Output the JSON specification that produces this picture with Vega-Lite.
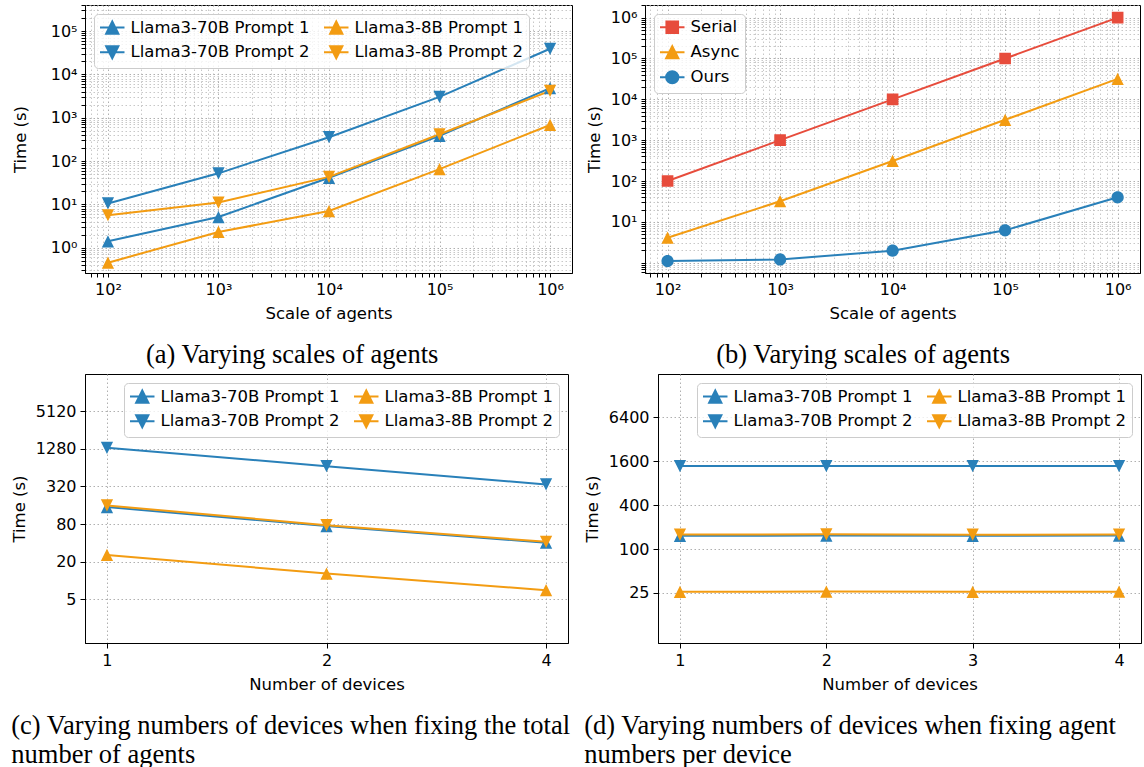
{
  "$schema": "https://vega.github.io/schema/vega-lite/v6.json",
  "padding": {"left": 10, "top": 4, "right": 0, "bottom": 0},
  "background": "white",
  "datasets": {
    "a": [
      {"x": 100, "time": 1.4, "series": "Llama3-70B Prompt 1"},
      {"x": 1000, "time": 5.1, "series": "Llama3-70B Prompt 1"},
      {"x": 10000, "time": 41, "series": "Llama3-70B Prompt 1"},
      {"x": 100000, "time": 380, "series": "Llama3-70B Prompt 1"},
      {"x": 1000000, "time": 4800, "series": "Llama3-70B Prompt 1"},
      {"x": 100, "time": 10.5, "series": "Llama3-70B Prompt 2"},
      {"x": 1000, "time": 52, "series": "Llama3-70B Prompt 2"},
      {"x": 10000, "time": 355, "series": "Llama3-70B Prompt 2"},
      {"x": 100000, "time": 3030, "series": "Llama3-70B Prompt 2"},
      {"x": 1000000, "time": 39000, "series": "Llama3-70B Prompt 2"},
      {"x": 100, "time": 0.45, "series": "Llama3-8B Prompt 1"},
      {"x": 1000, "time": 2.3, "series": "Llama3-8B Prompt 1"},
      {"x": 10000, "time": 7, "series": "Llama3-8B Prompt 1"},
      {"x": 100000, "time": 65, "series": "Llama3-8B Prompt 1"},
      {"x": 1000000, "time": 680, "series": "Llama3-8B Prompt 1"},
      {"x": 100, "time": 5.6, "series": "Llama3-8B Prompt 2"},
      {"x": 1000, "time": 11, "series": "Llama3-8B Prompt 2"},
      {"x": 10000, "time": 43, "series": "Llama3-8B Prompt 2"},
      {"x": 100000, "time": 415, "series": "Llama3-8B Prompt 2"},
      {"x": 1000000, "time": 4150, "series": "Llama3-8B Prompt 2"}
    ],
    "b": [
      {"x": 100, "time": 100, "series": "Serial"},
      {"x": 1000, "time": 1000, "series": "Serial"},
      {"x": 10000, "time": 10000, "series": "Serial"},
      {"x": 100000, "time": 100000, "series": "Serial"},
      {"x": 1000000, "time": 1000000, "series": "Serial"},
      {"x": 100, "time": 4.1, "series": "Async"},
      {"x": 1000, "time": 32, "series": "Async"},
      {"x": 10000, "time": 310, "series": "Async"},
      {"x": 100000, "time": 3160, "series": "Async"},
      {"x": 1000000, "time": 31600, "series": "Async"},
      {"x": 100, "time": 1.1, "series": "Ours"},
      {"x": 1000, "time": 1.2, "series": "Ours"},
      {"x": 10000, "time": 1.97, "series": "Ours"},
      {"x": 100000, "time": 6.2, "series": "Ours"},
      {"x": 1000000, "time": 40, "series": "Ours"}
    ],
    "c": [
      {"x": 1, "time": 150, "series": "Llama3-70B Prompt 1"},
      {"x": 2, "time": 74.5, "series": "Llama3-70B Prompt 1"},
      {"x": 4, "time": 40.3, "series": "Llama3-70B Prompt 1"},
      {"x": 1, "time": 1330, "series": "Llama3-70B Prompt 2"},
      {"x": 2, "time": 676, "series": "Llama3-70B Prompt 2"},
      {"x": 4, "time": 345, "series": "Llama3-70B Prompt 2"},
      {"x": 1, "time": 25.7, "series": "Llama3-8B Prompt 1"},
      {"x": 2, "time": 12.9, "series": "Llama3-8B Prompt 1"},
      {"x": 4, "time": 7.0, "series": "Llama3-8B Prompt 1"},
      {"x": 1, "time": 159, "series": "Llama3-8B Prompt 2"},
      {"x": 2, "time": 77, "series": "Llama3-8B Prompt 2"},
      {"x": 4, "time": 41.7, "series": "Llama3-8B Prompt 2"}
    ],
    "d": [
      {"x": 1, "time": 152, "series": "Llama3-70B Prompt 1"},
      {"x": 2, "time": 153, "series": "Llama3-70B Prompt 1"},
      {"x": 3, "time": 152, "series": "Llama3-70B Prompt 1"},
      {"x": 4, "time": 153, "series": "Llama3-70B Prompt 1"},
      {"x": 1, "time": 1370, "series": "Llama3-70B Prompt 2"},
      {"x": 2, "time": 1372, "series": "Llama3-70B Prompt 2"},
      {"x": 3, "time": 1375, "series": "Llama3-70B Prompt 2"},
      {"x": 4, "time": 1371, "series": "Llama3-70B Prompt 2"},
      {"x": 1, "time": 25.9, "series": "Llama3-8B Prompt 1"},
      {"x": 2, "time": 26.1, "series": "Llama3-8B Prompt 1"},
      {"x": 3, "time": 25.9, "series": "Llama3-8B Prompt 1"},
      {"x": 4, "time": 26.0, "series": "Llama3-8B Prompt 1"},
      {"x": 1, "time": 158, "series": "Llama3-8B Prompt 2"},
      {"x": 2, "time": 159, "series": "Llama3-8B Prompt 2"},
      {"x": 3, "time": 157, "series": "Llama3-8B Prompt 2"},
      {"x": 4, "time": 158, "series": "Llama3-8B Prompt 2"}
    ]
  },
  "vconcat": [
    {
      "hconcat": [
        {
          "width": 487,
          "height": 268,
          "title": {"text": "(a) Varying scales of agents", "anchor": "middle", "frame": "bounds"},
          "data": {"name": "a"},
          "layer": [
            {
              "mark": {"type": "line", "strokeWidth": 2},
              "encoding": {
                "x": {"field": "x", "type": "quantitative", "scale": {"type": "log", "domain": [62, 1580000], "nice": false},
                  "axis": {"orient": "bottom", "title": "Scale of agents", "tickSize": 4,
                    "values": [70, 80, 90, 100, 200, 300, 400, 500, 600, 700, 800, 900, 1000, 2000, 3000, 4000, 5000, 6000, 7000, 8000, 9000, 10000, 20000, 30000, 40000, 50000, 60000, 70000, 80000, 90000, 100000, 200000, 300000, 400000, 500000, 600000, 700000, 800000, 900000, 1000000],
                    "labelExpr": "abs(log(datum.value)/LN10 - round(log(datum.value)/LN10)) < 0.001 ? '10' + ['⁰','¹','²','³','⁴','⁵','⁶'][round(log(datum.value)/LN10)] : ''",
                    "labelFontSize": {"condition": {"test": "abs(log(datum.value)/LN10 - round(log(datum.value)/LN10)) < 0.001", "value": 16}, "value": 0.1},
                    "gridOpacity": {"condition": {"test": "abs(log(datum.value)/LN10 - round(log(datum.value)/LN10)) < 0.001", "value": 1}, "value": 0.7}}},
                "y": {"field": "time", "type": "quantitative", "scale": {"type": "log", "domain": [0.26, 400000], "nice": false},
                  "axis": {"orient": "left", "title": "Time (s)", "tickSize": 4, "titlePadding": 22,
                    "values": [0.3, 0.4, 0.5, 0.6, 0.7, 0.8, 0.9, 1, 2, 3, 4, 5, 6, 7, 8, 9, 10, 20, 30, 40, 50, 60, 70, 80, 90, 100, 200, 300, 400, 500, 600, 700, 800, 900, 1000, 2000, 3000, 4000, 5000, 6000, 7000, 8000, 9000, 10000, 20000, 30000, 40000, 50000, 60000, 70000, 80000, 90000, 100000, 200000, 300000, 400000],
                    "labelExpr": "abs(log(datum.value)/LN10 - round(log(datum.value)/LN10)) < 0.001 ? '10' + ['⁰','¹','²','³','⁴','⁵','⁶'][round(log(datum.value)/LN10)] : ''",
                    "labelFontSize": {"condition": {"test": "abs(log(datum.value)/LN10 - round(log(datum.value)/LN10)) < 0.001", "value": 16}, "value": 0.1},
                    "gridOpacity": {"condition": {"test": "abs(log(datum.value)/LN10 - round(log(datum.value)/LN10)) < 0.001", "value": 1}, "value": 0.7}}},
                "color": {"field": "series", "type": "nominal",
                  "scale": {"domain": ["Llama3-70B Prompt 1", "Llama3-70B Prompt 2", "Llama3-8B Prompt 1", "Llama3-8B Prompt 2"], "range": ["#2980b9", "#2980b9", "#f39c12", "#f39c12"]},
                  "legend": {"title": null, "orient": "top-left", "columns": 2,
                    "encode": {"symbols": {"update": {"stroke": {"signal": "indexof(datum.value, '70B') >= 0 ? '#2980b9' : '#f39c12'"}, "strokeWidth": {"value": 2}}}}}},
                "detail": {"field": "series"}
              }
            },
            {
              "mark": {"type": "point", "filled": true, "opacity": 1, "size": 150},
              "encoding": {
                "x": {"field": "x", "type": "quantitative"},
                "y": {"field": "time", "type": "quantitative"},
                "color": {"field": "series", "type": "nominal"},
                "shape": {"field": "series", "type": "nominal",
                  "scale": {"domain": ["Llama3-70B Prompt 1", "Llama3-70B Prompt 2", "Llama3-8B Prompt 1", "Llama3-8B Prompt 2"], "range": ["M-2,0H2M0,-1L1,1L-1,1Z", "M-2,0H2M0,1L1,-1L-1,-1Z", "M-2,0H2M0,-1L1,1L-1,1Z", "M-2,0H2M0,1L1,-1L-1,-1Z"]},
                  "legend": {"title": null, "orient": "top-left", "columns": 2,
                    "encode": {"symbols": {"update": {"stroke": {"signal": "indexof(datum.value, '70B') >= 0 ? '#2980b9' : '#f39c12'"}, "strokeWidth": {"value": 2}}}}}}
              }
            }
          ]
        },
        {
          "width": 495,
          "height": 268,
          "title": {"text": "(b) Varying scales of agents", "anchor": "middle", "frame": "bounds"},
          "data": {"name": "b"},
          "layer": [
            {
              "mark": {"type": "line", "strokeWidth": 2},
              "encoding": {
                "x": {"field": "x", "type": "quantitative", "scale": {"type": "log", "domain": [63, 1580000], "nice": false},
                  "axis": {"orient": "bottom", "title": "Scale of agents", "tickSize": 4,
                    "values": [70, 80, 90, 100, 200, 300, 400, 500, 600, 700, 800, 900, 1000, 2000, 3000, 4000, 5000, 6000, 7000, 8000, 9000, 10000, 20000, 30000, 40000, 50000, 60000, 70000, 80000, 90000, 100000, 200000, 300000, 400000, 500000, 600000, 700000, 800000, 900000, 1000000],
                    "labelExpr": "abs(log(datum.value)/LN10 - round(log(datum.value)/LN10)) < 0.001 ? '10' + ['⁰','¹','²','³','⁴','⁵','⁶'][round(log(datum.value)/LN10)] : ''",
                    "labelFontSize": {"condition": {"test": "abs(log(datum.value)/LN10 - round(log(datum.value)/LN10)) < 0.001", "value": 16}, "value": 0.1},
                    "gridOpacity": {"condition": {"test": "abs(log(datum.value)/LN10 - round(log(datum.value)/LN10)) < 0.001", "value": 1}, "value": 0.7}}},
                "y": {"field": "time", "type": "quantitative", "scale": {"type": "log", "domain": [0.56, 2040000], "nice": false},
                  "axis": {"orient": "left", "title": "Time (s)", "tickSize": 4,
                    "values": [0.6, 0.7, 0.8, 0.9, 1, 2, 3, 4, 5, 6, 7, 8, 9, 10, 20, 30, 40, 50, 60, 70, 80, 90, 100, 200, 300, 400, 500, 600, 700, 800, 900, 1000, 2000, 3000, 4000, 5000, 6000, 7000, 8000, 9000, 10000, 20000, 30000, 40000, 50000, 60000, 70000, 80000, 90000, 100000, 200000, 300000, 400000, 500000, 600000, 700000, 800000, 900000, 1000000, 2000000],
                    "labelExpr": "abs(log(datum.value)/LN10 - round(log(datum.value)/LN10)) < 0.001 && datum.value > 5 ? '10' + ['⁰','¹','²','³','⁴','⁵','⁶'][round(log(datum.value)/LN10)] : ''",
                    "labelFontSize": {"condition": {"test": "abs(log(datum.value)/LN10 - round(log(datum.value)/LN10)) < 0.001 && datum.value > 5", "value": 16}, "value": 0.1},
                    "gridOpacity": {"condition": {"test": "abs(log(datum.value)/LN10 - round(log(datum.value)/LN10)) < 0.001", "value": 1}, "value": 0.7}}},
                "color": {"field": "series", "type": "nominal",
                  "scale": {"domain": ["Serial", "Async", "Ours"], "range": ["#e74c3c", "#f39c12", "#2980b9"]},
                  "legend": {"title": null, "orient": "top-left",
                    "encode": {"symbols": {"update": {"stroke": {"signal": "datum.value == 'Serial' ? '#e74c3c' : datum.value == 'Async' ? '#f39c12' : '#2980b9'"}, "strokeWidth": {"value": 2}}}}}},
                "detail": {"field": "series"}
              }
            },
            {
              "mark": {"type": "point", "filled": true, "opacity": 1, "size": 150},
              "encoding": {
                "x": {"field": "x", "type": "quantitative"},
                "y": {"field": "time", "type": "quantitative"},
                "color": {"field": "series", "type": "nominal"},
                "shape": {"field": "series", "type": "nominal",
                  "scale": {"domain": ["Serial", "Async", "Ours"], "range": ["M-2,0H2M-0.95,-0.95H0.95V0.95H-0.95Z", "M-2,0H2M0,-1L1,1L-1,1Z", "M-2,0H2M1,0A1,1,0,1,1,-1,0A1,1,0,1,1,1,0Z"]},
                  "legend": {"title": null, "orient": "top-left",
                    "encode": {"symbols": {"update": {"stroke": {"signal": "datum.value == 'Serial' ? '#e74c3c' : datum.value == 'Async' ? '#f39c12' : '#2980b9'"}, "strokeWidth": {"value": 2}}}}}}
              }
            }
          ]
        }
      ],
      "spacing": 12,
      "resolve": {"scale": {"color": "independent", "shape": "independent"}, "legend": {"color": "independent", "shape": "independent"}}
    },
    {
      "hconcat": [
        {
          "width": 483,
          "height": 269,
          "title": {"text": ["(c) Varying numbers of devices when fixing the total", "number of agents"], "anchor": "start", "frame": "bounds"},
          "data": {"name": "c"},
          "layer": [
            {
              "mark": {"type": "line", "strokeWidth": 2},
              "encoding": {
                "x": {"field": "x", "type": "quantitative", "scale": {"type": "log", "base": 2, "domain": [0.933, 4.287], "nice": false},
                  "axis": {"values": [1, 2, 4], "title": "Number of devices", "format": "d"}},
                "y": {"field": "time", "type": "quantitative", "scale": {"type": "log", "base": 4, "domain": [1.0, 20200], "nice": false},
                  "axis": {"values": [5, 20, 80, 320, 1280, 5120], "title": "Time (s)", "format": "d"}},
                "color": {"field": "series", "type": "nominal",
                  "scale": {"domain": ["Llama3-70B Prompt 1", "Llama3-70B Prompt 2", "Llama3-8B Prompt 1", "Llama3-8B Prompt 2"], "range": ["#2980b9", "#2980b9", "#f39c12", "#f39c12"]},
                  "legend": {"title": null, "orient": "top-right", "columns": 2,
                    "encode": {"symbols": {"update": {"stroke": {"signal": "indexof(datum.value, '70B') >= 0 ? '#2980b9' : '#f39c12'"}, "strokeWidth": {"value": 2}}}}}},
                "detail": {"field": "series"}
              }
            },
            {
              "mark": {"type": "point", "filled": true, "opacity": 1, "size": 150},
              "encoding": {
                "x": {"field": "x", "type": "quantitative"},
                "y": {"field": "time", "type": "quantitative"},
                "color": {"field": "series", "type": "nominal"},
                "shape": {"field": "series", "type": "nominal",
                  "scale": {"domain": ["Llama3-70B Prompt 1", "Llama3-70B Prompt 2", "Llama3-8B Prompt 1", "Llama3-8B Prompt 2"], "range": ["M-2,0H2M0,-1L1,1L-1,1Z", "M-2,0H2M0,1L1,-1L-1,-1Z", "M-2,0H2M0,-1L1,1L-1,1Z", "M-2,0H2M0,1L1,-1L-1,-1Z"]},
                  "legend": {"title": null, "orient": "top-right", "columns": 2,
                    "encode": {"symbols": {"update": {"stroke": {"signal": "indexof(datum.value, '70B') >= 0 ? '#2980b9' : '#f39c12'"}, "strokeWidth": {"value": 2}}}}}}
              }
            }
          ]
        },
        {
          "width": 483,
          "height": 269,
          "title": {"text": ["(d) Varying numbers of devices when fixing agent", "numbers per device"], "anchor": "start", "frame": "bounds"},
          "data": {"name": "d"},
          "layer": [
            {
              "mark": {"type": "line", "strokeWidth": 2},
              "encoding": {
                "x": {"field": "x", "type": "quantitative", "scale": {"domain": [0.85, 4.15], "nice": false, "zero": false},
                  "axis": {"values": [1, 2, 3, 4], "title": "Number of devices", "format": "d"}},
                "y": {"field": "time", "type": "quantitative", "scale": {"type": "log", "base": 4, "domain": [5.15, 25100], "nice": false},
                  "axis": {"values": [25, 100, 400, 1600, 6400], "title": "Time (s)", "format": "d"}},
                "color": {"field": "series", "type": "nominal",
                  "scale": {"domain": ["Llama3-70B Prompt 1", "Llama3-70B Prompt 2", "Llama3-8B Prompt 1", "Llama3-8B Prompt 2"], "range": ["#2980b9", "#2980b9", "#f39c12", "#f39c12"]},
                  "legend": {"title": null, "orient": "top-right", "columns": 2,
                    "encode": {"symbols": {"update": {"stroke": {"signal": "indexof(datum.value, '70B') >= 0 ? '#2980b9' : '#f39c12'"}, "strokeWidth": {"value": 2}}}}}},
                "detail": {"field": "series"}
              }
            },
            {
              "mark": {"type": "point", "filled": true, "opacity": 1, "size": 150},
              "encoding": {
                "x": {"field": "x", "type": "quantitative"},
                "y": {"field": "time", "type": "quantitative"},
                "color": {"field": "series", "type": "nominal"},
                "shape": {"field": "series", "type": "nominal",
                  "scale": {"domain": ["Llama3-70B Prompt 1", "Llama3-70B Prompt 2", "Llama3-8B Prompt 1", "Llama3-8B Prompt 2"], "range": ["M-2,0H2M0,-1L1,1L-1,1Z", "M-2,0H2M0,1L1,-1L-1,-1Z", "M-2,0H2M0,-1L1,1L-1,1Z", "M-2,0H2M0,1L1,-1L-1,-1Z"]},
                  "legend": {"title": null, "orient": "top-right", "columns": 2,
                    "encode": {"symbols": {"update": {"stroke": {"signal": "indexof(datum.value, '70B') >= 0 ? '#2980b9' : '#f39c12'"}, "strokeWidth": {"value": 2}}}}}}
              }
            }
          ]
        }
      ],
      "spacing": 11,
      "resolve": {"scale": {"color": "independent", "shape": "independent"}, "legend": {"color": "independent", "shape": "independent"}}
    }
  ],
  "spacing": 4,
  "resolve": {"scale": {"color": "independent", "shape": "independent"}, "legend": {"color": "independent", "shape": "independent"}},
  "config": {
    "font": "DejaVu Sans",
    "view": {"stroke": "black", "strokeWidth": 1},
    "axis": {
      "labelFont": "DejaVu Sans", "labelFontSize": 16, "labelColor": "black",
      "titleFont": "DejaVu Sans", "titleFontSize": 16.5, "titleFontWeight": "normal", "titleColor": "black",
      "tickColor": "black", "domainColor": "black", "tickSize": 5, "labelPadding": 4, "titlePadding": 8,
      "grid": true, "gridColor": "#b0b0b0", "gridDash": [1.5, 2.5], "gridWidth": 1,
      "labelFlush": false, "labelOverlap": false
    },
    "legend": {
      "labelFont": "DejaVu Sans", "labelFontSize": 16.5, "labelColor": "black", "labelLimit": 300,
      "fillColor": "rgba(255,255,255,0.8)", "strokeColor": "#cccccc", "cornerRadius": 4,
      "padding": 5, "rowPadding": 4, "columnPadding": 10, "symbolSize": 150,
      "symbolOffset": 5, "labelOffset": 10, "offset": 9
    },
    "title": {
      "font": "Liberation Serif", "fontSize": 26.5, "fontWeight": "normal", "color": "black",
      "orient": "bottom", "offset": 20, "lineHeight": 29
    }
  }
}
